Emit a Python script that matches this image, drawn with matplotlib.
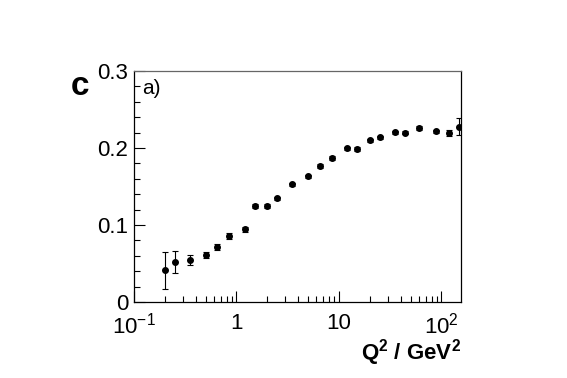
import numpy as np
import matplotlib
matplotlib.use("Agg")
import matplotlib.pyplot as plt
from matplotlib.ticker import FixedLocator, FixedFormatter, MultipleLocator

plt.rcParams['font.family'] = ['Liberation Sans', 'DejaVu Sans']
plt.rcParams['mathtext.fontset'] = 'custom'
plt.rcParams['mathtext.rm'] = 'Liberation Sans'
plt.rcParams['mathtext.it'] = 'Liberation Sans'
plt.rcParams['mathtext.bf'] = 'Liberation Sans:bold'

# data
q2 = [0.2, 0.25, 0.35, 0.5, 0.65, 0.85, 1.2, 1.5, 2.0, 2.5, 3.5, 5.0, 6.5, 8.5,
      12, 15, 20, 25, 35, 44, 60, 89, 118, 148]
cval = [0.041, 0.052, 0.0545, 0.061, 0.071, 0.0857, 0.0944, 0.1247, 0.1247, 0.1346,
        0.153, 0.163, 0.1766, 0.187, 0.1995, 0.1987, 0.21, 0.214, 0.2203, 0.22,
        0.226, 0.2217, 0.2195, 0.2277]
cerr = [0.024, 0.014, 0.006, 0.004, 0.004, 0.004, 0.003, 0.002, 0.002, 0.002,
        0.002, 0.002, 0.002, 0.002, 0.002, 0.002, 0.002, 0.002, 0.002, 0.002,
        0.002, 0.002, 0.004, 0.011]

xticks = [0.1, 1, 10, 100]
xticklabels = ['$10^{-1}$', '1', '10', '$10^{2}$']

fig = plt.figure(figsize=(5.67, 3.78), dpi=100)
ax = fig.add_axes([0.2363, 0.2011, 0.5767, 0.6111])

ax.errorbar(q2, cval, yerr=cerr, fmt='o', color='black', ms=4,
            elinewidth=0.8, capsize=2, capthick=0.8)

ax.set_xscale('log')
ax.set_xlim(0.1, 155)
ax.set_ylim(0, 0.3)

ax.xaxis.set_major_locator(FixedLocator(xticks))
ax.xaxis.set_major_formatter(FixedFormatter(xticklabels))
minor = [m * 10.0 ** e for e in (-1, 0, 1, 2) for m in range(2, 10)]
ax.xaxis.set_minor_locator(FixedLocator(minor))
ax.xaxis.set_minor_formatter(FixedFormatter([''] * len(minor)))

ax.yaxis.set_minor_locator(MultipleLocator(0.02))
ax.set_yticks([0, 0.1, 0.2, 0.3])
ax.set_yticklabels(['0', '0.1', '0.2', '0.3'])

ax.tick_params(which='both', direction='in', top=False, right=False,
               labelsize=16, width=0.8)
ax.tick_params(which='major', length=8)
ax.tick_params(axis='y', which='major', pad=4)
ax.tick_params(axis='x', which='major', pad=8)
ax.tick_params(which='minor', length=4)
for s in ax.spines.values():
    s.set_linewidth(0.9)
ax.spines['top'].set_color('#666666')

ax.text(0.025, 0.965, 'a)', transform=ax.transAxes, fontsize=15,
        ha='left', va='top')

# y-axis label sits at the top left, like the original
fig.text(0.125, 0.772, 'c', fontsize=24, fontweight='bold', ha='left', va='center')
fig.text(0.813, 0.068, r'$\mathbf{Q^2\ /\ GeV^2}$', fontsize=16,
         ha='right', va='center')

fig.savefig('out.png', dpi=100)
